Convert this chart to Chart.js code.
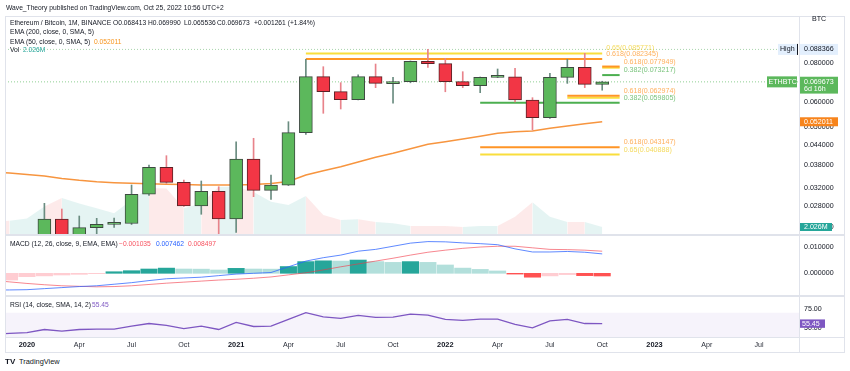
<!DOCTYPE html>
<html>
<head>
<meta charset="utf-8">
<title>ETHBTC 1M</title>
<script src="https://cdn.jsdelivr.net/npm/chart.js@4.4.1/dist/chart.umd.min.js"></script>
<style>
  html, body { margin: 0; background: #fff; }
  #wrap { position: relative; width: 850px; height: 371px; overflow: hidden; font-family: "Liberation Sans", Arial, sans-serif; color: #131722; }
  #wrap canvas { position: absolute; left: 0; }
  .t { position: absolute; font-size: 6.7px; line-height: 8px; white-space: nowrap; }
  .ln { position: absolute; background: #e0e3eb; }
</style>
</head>
<body>
<div id="wrap">
  <canvas id="main" width="850" height="219" style="top:16px"></canvas>
  <canvas id="macd" width="850" height="61" style="top:235px"></canvas>
  <canvas id="rsi" width="850" height="56" style="top:296px"></canvas>
  <div class="ln" style="left:5px;top:16px;width:840px;height:1px"></div>
  <div class="ln" style="left:5px;top:16px;width:1px;height:337px"></div>
  <div class="ln" style="left:844px;top:16px;width:1px;height:337px"></div>
  <div class="ln" style="left:799px;top:16px;width:1px;height:337px"></div>
  <div class="ln" style="left:5px;top:234px;width:840px;height:2px"></div>
  <div class="ln" style="left:5px;top:295px;width:840px;height:2px"></div>
  <div class="ln" style="left:5px;top:337px;width:840px;height:1px"></div>
  <div class="ln" style="left:5px;top:352px;width:840px;height:1px"></div>
</div>
<script>
// monthly ETH/BTC candles, Nov 2019 .. Oct 2022
const months = ['2019-11','2019-12',
  '2020-01','2020-02','2020-03','2020-04','2020-05','2020-06','2020-07','2020-08','2020-09','2020-10','2020-11','2020-12',
  '2021-01','2021-02','2021-03','2021-04','2021-05','2021-06','2021-07','2021-08','2021-09','2021-10','2021-11','2021-12',
  '2022-01','2022-02','2022-03','2022-04','2022-05','2022-06','2022-07','2022-08','2022-09','2022-10'];
const open = [0.0207, 0.0200,
  0.0179, 0.0192, 0.02551, 0.0206, 0.02394, 0.02454, 0.02468, 0.03058, 0.03727, 0.03338, 0.02806, 0.03125,
  0.02551, 0.03960, 0.03148, 0.03270, 0.04801, 0.07236, 0.06483, 0.06114, 0.07236, 0.06880, 0.06976, 0.0810,
  0.0796, 0.0698, 0.06774, 0.0720, 0.07235, 0.0610, 0.05359, 0.0720, 0.0775, 0.068413];
const high = [0.0212, 0.0205,
  0.0196, 0.02862, 0.02745, 0.02608, 0.02564, 0.02570, 0.03273, 0.03790, 0.04057, 0.03395, 0.03370, 0.03232,
  0.04494, 0.04608, 0.03522, 0.05204, 0.08220, 0.07786, 0.06925, 0.07342, 0.07940, 0.07204, 0.0812, 0.088366,
  0.0828, 0.07506, 0.0722, 0.07656, 0.0770, 0.06205, 0.07418, 0.0822, 0.08589, 0.069990];
const low = [0.0196, 0.0176,
  0.0174, 0.0188, 0.0185, 0.0198, 0.02286, 0.02400, 0.02450, 0.03030, 0.03310, 0.02800, 0.02641, 0.02286,
  0.02314, 0.03004, 0.02947, 0.03260, 0.04745, 0.05534, 0.05711, 0.06100, 0.06676, 0.05955, 0.0692, 0.0775,
  0.0648, 0.0668, 0.06436, 0.0719, 0.0601, 0.04897, 0.0533, 0.0689, 0.0668, 0.065536];
const close = [0.0200, 0.0179,
  0.0192, 0.02551, 0.0206, 0.02394, 0.02454, 0.02468, 0.03058, 0.03727, 0.03338, 0.02806, 0.03125, 0.02551,
  0.03960, 0.03148, 0.03270, 0.04801, 0.07236, 0.06483, 0.06114, 0.07236, 0.06894, 0.06976, 0.0810, 0.0796,
  0.0698, 0.06774, 0.0720, 0.07235, 0.0610, 0.05359, 0.0720, 0.0775, 0.068412, 0.069673];
const volume = [3.4, 3.6,
  4.2, 7.2, 9.4, 8.0, 6.8, 5.5, 8.9, 11.9, 11.8, 6.8, 8.0, 12.2,
  12.2, 10.9, 8.4, 7.6, 9.9, 5.1, 3.8, 4.0, 3.3, 3.0, 2.3, 2.3,
  2.3, 2.0, 2.3, 2.3, 4.6, 8.3, 4.6, 3.3, 3.3, 2.026];
const ema50 = [0.03610, 0.03573,
  0.03535, 0.03496, 0.03432, 0.03387, 0.03353, 0.03329, 0.03314, 0.03302, 0.03292, 0.03285, 0.03273, 0.03273,
  0.03273, 0.03285, 0.03310, 0.03358, 0.03522, 0.03634, 0.03742, 0.03874, 0.04010, 0.04129, 0.04270, 0.04410,
  0.04494, 0.04585, 0.04676, 0.04780, 0.04836, 0.04861, 0.04958, 0.05043, 0.05128, 0.052011];
const macd = [-0.0064, -0.0064,
  -0.0063, -0.0059, -0.0055, -0.0051, -0.0048, -0.0042, -0.0036, -0.0028, -0.0021, -0.0018, -0.0015, -0.0009,
  -0.0003, 0.0, 0.0003, 0.0025, 0.0047, 0.0060, 0.0070, 0.0085, 0.0092, 0.0104, 0.0116, 0.0122,
  0.0121, 0.0117, 0.0114, 0.0110, 0.0094, 0.0082, 0.0082, 0.0084, 0.0081, 0.007462];
const signal = [-0.0027, -0.0033,
  -0.0039, -0.0044, -0.0048, -0.0050, -0.0052, -0.0051, -0.0048, -0.0043, -0.0038, -0.0034, -0.0030, -0.0026,
  -0.0023, -0.0019, -0.0014, -0.0006, 0.0002, 0.0013, 0.0025, 0.0036, 0.0047, 0.0058, 0.0070, 0.0081,
  0.0089, 0.0096, 0.0101, 0.0104, 0.0104, 0.0098, 0.0092, 0.0091, 0.0089, 0.008497];
const hist = [-0.0037, -0.0026,
  -0.0013, -0.0010, -0.00065, -0.0004, -0.00015, 0.0006, 0.0010, 0.00165, 0.0020, 0.00165, 0.0016, 0.00127,
  0.0019, 0.00165, 0.0016, 0.0026, 0.0045, 0.0048, 0.0047, 0.0051, 0.0045, 0.0042, 0.0045, 0.0042,
  0.0032, 0.0020, 0.0015, 0.0009, -0.0003, -0.0015, -0.0010, -0.0005, -0.0009, -0.001035];
const rsi = [41.0, 42.5,
  43.5, 47.6, 45.3, 47.6, 48.0, 48.0, 52.0, 55.6, 53.0, 48.9, 52.0, 47.6,
  57.0, 51.6, 52.0, 61.0, 70.0, 64.6, 62.4, 66.5, 63.8, 64.2, 68.2, 66.9,
  61.0, 59.7, 61.5, 61.5, 54.3, 49.7, 59.2, 61.0, 55.6, 55.45];
const rsiBand = [30, 70];

// fibonacci levels
const fibRatio = ['0.65', '0.618', '0.618', '0.65', '0.382', '0.618', '0.65', '0.382', '0.618', '0.65'];
const fibValue = [0.085771, 0.082345, 0.077949, 0.0773, 0.073217, 0.062974, 0.0620, 0.059805, 0.043147, 0.040888];
const fibFrom = ['2021-05', '2021-05', '2022-10', '2022-10', '2022-10', '2022-08', '2022-08', '2022-03', '2022-03', '2022-03'];
const fibTo = ['2022-10', '2022-10', '2022-11', '2022-11', '2022-11', '2022-11', '2022-11', '2022-11', '2022-11', '2022-11'];
const fibLabelled = [true, true, true, false, true, true, false, true, true, true];

// axis ticks
const priceTicks = [0.024, 0.028, 0.032, 0.038, 0.044, 0.05, 0.06, 0.08];
const macdTicks = [0.01, 0];
const rsiTicks = [75, 50];
const tickMonths = ['2020-01','2020-04','2020-07','2020-10','2021-01','2021-04','2021-07','2021-10',
  '2022-01','2022-04','2022-07','2022-10','2023-01','2023-04','2023-07'];
const tickLabels = ['2020','Apr','Jul','Oct','2021','Apr','Jul','Oct','2022','Apr','Jul','Oct','2023','Apr','Jul'];

// view
const viewStart = -1.26, viewEnd = 44.29;
const priceMin = 0.02269, priceMax = 0.11288;
const volMax = 55.5;
const macdMin = -0.008731, macdMax = 0.014731;
const rsiMin = 37.57, rsiMax = 92.38;

const FONT = '7.1px "Liberation Sans", Arial, sans-serif';
const GREEN = '#5cb85c', RED = '#f23645';
const fibLine = { '0.65': '#f9de3c', '0.618': '#ff9526', '0.382': '#4caf50' };
const fibText = { '0.65': 'rgba(240,205,40,0.75)', '0.618': 'rgba(255,150,40,0.75)', '0.382': 'rgba(76,175,80,0.75)' };

const mi = s => { const [y, m] = s.split('-').map(Number); return (y - 2020) * 12 + m - 1; };
const xs = months.map(mi);
const last = close.length - 1;
const up = close.map((c, k) => c >= open[k]);
const pts = arr => arr.map((v, k) => ({ x: xs[k], y: v }));
const maxHigh = Math.max(...high);
const flat = (v) => [{ x: viewStart, y: v }, { x: viewEnd, y: v }];

function baseOptions(bottomPad) {
  return {
    responsive: false, animation: false, events: [],
    layout: { padding: { left: 5, right: 51, top: 0, bottom: bottomPad } },
    plugins: { legend: { display: false }, tooltip: { enabled: false } },
    scales: { x: { type: 'linear', min: viewStart, max: viewEnd, offset: false, display: false } }
  };
}

function tag(ctx, x, y, w, h, bg, fg, text, tx) {
  ctx.fillStyle = bg;
  ctx.fillRect(x, y, w, h);
  ctx.fillStyle = fg;
  ctx.fillText(text, tx, y + h / 2);
}

// ---- main pane ----
const mainLabels = {
  id: 'mainLabels',
  afterDatasetsDraw(chart) {
    const ctx = chart.ctx, ys = chart.scales.y, xsc = chart.scales.x, yv = chart.scales.yv;
    ctx.save();
    ctx.font = FONT;
    ctx.textBaseline = 'middle';
    ctx.textAlign = 'left';
    fibValue.forEach((v, j) => {
      if (!fibLabelled[j]) return;
      ctx.fillStyle = fibText[fibRatio[j]];
      ctx.fillText(fibRatio[j] + '(' + v.toFixed(6) + ')', xsc.getPixelForValue(mi(fibTo[j])) + 4, ys.getPixelForValue(v) - 5);
    });
    ctx.fillStyle = '#131722';
    priceTicks.forEach(v => ctx.fillText(v.toFixed(6), 804, ys.getPixelForValue(v)));

    let cy = ys.getPixelForValue(maxHigh);
    tag(ctx, 778, cy - 5.5, 19, 11, '#e3effd', '#131722', 'High', 780);
    ctx.fillStyle = '#131722';
    ctx.fillRect(797, cy - 5.5, 1, 11);
    tag(ctx, 799, cy - 5.5, 39, 11, '#e3effd', '#131722', maxHigh.toFixed(6), 804);

    cy = ys.getPixelForValue(close[last]);
    tag(ctx, 767, cy - 5.5, 30, 11, GREEN, '#fff', 'ETHBTC', 768.5);
    tag(ctx, 799, cy - 5, 39, 16.5, GREEN, '#fff', close[last].toFixed(6), 804);
    ctx.fillText('6d 16h', 804, cy - 5 + 16.5 / 2 + 0.5);
    ctx.fillStyle = GREEN;
    ctx.fillRect(799, cy - 5, 39, 16.5);
    ctx.fillStyle = '#fff';
    ctx.fillText(close[last].toFixed(6), 804, cy);
    ctx.fillText('6d 16h', 804, cy + 7.5);

    cy = ys.getPixelForValue(ema50[last]);
    tag(ctx, 799, cy - 4.5, 39, 9, '#f7841c', '#fff', ema50[last].toFixed(6), 804);

    cy = yv.getPixelForValue(volume[last]);
    tag(ctx, 799, cy - 4, 33, 8, '#26a69a', '#fff', volume[last].toFixed(3) + 'M', 804);
    ctx.restore();
  }
};

const tealFill = 'rgba(38,166,154,0.12)', pinkFill = 'rgba(239,83,80,0.12)';
const mainData = [
  { type: 'bar', data: xs.map((x, k) => ({ x, y: [open[k], close[k]] })),
    backgroundColor: up.map(u => u ? GREEN : RED), borderColor: up.map(u => u ? '#3d4a40' : '#5a2226'),
    borderWidth: 1, borderSkipped: false, barThickness: 13, minBarLength: 2, grouped: false, order: 0, yAxisID: 'y' },
  { type: 'bar', data: xs.map((x, k) => ({ x, y: [low[k], high[k]] })),
    backgroundColor: up.map(u => u ? '#6a8c80' : '#e8838b'), barThickness: 1, grouped: false, order: 1, yAxisID: 'y' },
  { type: 'line', data: pts(ema50), borderColor: '#f7953f', borderWidth: 1.5, pointRadius: 0, tension: 0, order: 2, yAxisID: 'y' },
  ...fibValue.map((v, j) => ({ type: 'line', data: [{ x: mi(fibFrom[j]), y: v }, { x: mi(fibTo[j]), y: v }],
    borderColor: fibLine[fibRatio[j]], borderWidth: 2, pointRadius: 0, order: 3, yAxisID: 'y' })),
  { type: 'line', data: flat(close[last]), borderColor: '#8fcf92', borderWidth: 1, borderDash: [1, 2], pointRadius: 0, order: 4, yAxisID: 'y' },
  { type: 'line', data: flat(maxHigh), borderColor: '#a8d5ab', borderWidth: 1, borderDash: [1, 2], pointRadius: 0, order: 4, yAxisID: 'y' },
  { type: 'line', data: pts(volume), yAxisID: 'yv', fill: 'origin', borderColor: 'transparent', borderWidth: 0,
    pointRadius: 0, tension: 0, backgroundColor: tealFill, order: 5,
    segment: { backgroundColor: c => up[c.p1DataIndex] ? tealFill : pinkFill } }
];
const mainOpts = baseOptions(0);
mainOpts.scales.y = { type: 'logarithmic', min: priceMin, max: priceMax, display: false };
mainOpts.scales.yv = { type: 'linear', min: 0, max: volMax, display: false };
new Chart(document.getElementById('main'), { type: 'bar', data: { datasets: mainData }, options: mainOpts, plugins: [mainLabels] });

// ---- MACD pane ----
const histColor = hist.map((h, k) => {
  const prev = k > 0 ? hist[k - 1] : h;
  if (h >= 0) return prev < h ? '#26a69a' : '#b2dfdb';
  return prev < h ? '#ffcdd2' : '#ff5252';
});
const macdLabels = {
  id: 'macdLabels',
  afterDatasetsDraw(chart) {
    const ctx = chart.ctx, ys = chart.scales.y;
    ctx.save();
    ctx.font = FONT; ctx.textBaseline = 'middle'; ctx.fillStyle = '#131722';
    macdTicks.forEach(v => ctx.fillText(v.toFixed(6), 804, ys.getPixelForValue(v)));
    ctx.restore();
  }
};
const macdOpts = baseOptions(0);
macdOpts.scales.y = { type: 'linear', min: macdMin, max: macdMax, display: false };
new Chart(document.getElementById('macd'), {
  type: 'bar',
  data: { datasets: [
    { type: 'line', data: pts(macd), borderColor: 'rgba(41,98,255,0.75)', borderWidth: 1, pointRadius: 0, tension: 0, order: 0 },
    { type: 'line', data: pts(signal), borderColor: 'rgba(242,54,69,0.6)', borderWidth: 1, pointRadius: 0, tension: 0, order: 1 },
    { type: 'bar', data: pts(hist), backgroundColor: histColor, barThickness: 16.4, grouped: false, order: 2 }
  ] },
  options: macdOpts, plugins: [macdLabels]
});

// ---- RSI pane + time axis ----
const rsiLabels = {
  id: 'rsiLabels',
  afterDatasetsDraw(chart) {
    const ctx = chart.ctx, ys = chart.scales.y, xsc = chart.scales.x, area = chart.chartArea;
    ctx.save();
    ctx.font = FONT; ctx.textBaseline = 'middle'; ctx.fillStyle = '#131722';
    rsiTicks.forEach(v => ctx.fillText(v.toFixed(2), 804, ys.getPixelForValue(v)));
    const cy = ys.getPixelForValue(rsi[last]);
    tag(ctx, 799, cy - 4.2, 26, 8.4, '#7e57c2', '#fff', rsi[last].toFixed(2), 802);
    ctx.textAlign = 'center';
    tickMonths.forEach((m, j) => {
      const isYear = /^\d{4}$/.test(tickLabels[j]);
      ctx.font = (isYear ? 'bold 7.4px' : '7.1px') + ' "Liberation Sans", Arial, sans-serif';
      ctx.fillStyle = isYear ? '#131722' : '#2a2e39';
      ctx.fillText(tickLabels[j], xsc.getPixelForValue(mi(m)), area.bottom + 8.3);
    });
    ctx.restore();
  }
};
const rsiOpts = baseOptions(15);
rsiOpts.scales.y = { type: 'linear', min: rsiMin, max: rsiMax, display: false };
new Chart(document.getElementById('rsi'), {
  type: 'line',
  data: { datasets: [
    { data: pts(rsi), borderColor: '#7e57c2', borderWidth: 1.3, pointRadius: 0, tension: 0, order: 0 },
    { data: flat(rsiBand[1]), borderColor: 'transparent', borderWidth: 0, pointRadius: 0, order: 1 },
    { data: flat(rsiBand[0]), borderColor: 'transparent', borderWidth: 0, pointRadius: 0, order: 2,
      fill: '-1', backgroundColor: 'rgba(126,87,194,0.07)' }
  ] },
  options: rsiOpts, plugins: [rsiLabels]
});

// ---- texts ----
const wrap = document.getElementById('wrap');
function put(x, yc, text, color, weight, size) {
  const d = document.createElement('div');
  d.className = 't';
  d.style.left = x + 'px';
  d.style.top = (yc - 4) + 'px';
  if (color) d.style.color = color;
  if (weight) d.style.fontWeight = weight;
  if (size) d.style.fontSize = size + 'px';
  d.textContent = text;
  wrap.appendChild(d);
}
const fmt6 = v => (v < 0 ? '\u2212' : '') + Math.abs(v).toFixed(6);
const chg = close[last] - close[last - 1];
const pct = chg / close[last - 1] * 100;
put(6, 8.3, 'Wave_Theory published on TradingView.com, Oct 25, 2022 10:56 UTC+2');
put(10, 23.3, 'Ethereum / Bitcoin, 1M, BINANCE');
put(113, 23.3, 'O' + open[last].toFixed(6));
put(148, 23.3, 'H' + high[last].toFixed(6));
put(184, 23.3, 'L' + low[last].toFixed(6));
put(217, 23.3, 'C' + close[last].toFixed(6));
put(254, 23.3, (chg >= 0 ? '+' : '\u2212') + Math.abs(chg).toFixed(6) + ' (' + (pct >= 0 ? '+' : '\u2212') + Math.abs(pct).toFixed(2) + '%)');
put(10, 32.3, 'EMA (200, close, 0, SMA, 5)');
put(10, 41.7, 'EMA (50, close, 0, SMA, 5)');
put(94, 41.7, ema50[last].toFixed(6), '#f7931a');
put(10, 50, 'Vol');
put(23, 50, volume[last].toFixed(3) + 'M', '#26a69a');
put(10, 244, 'MACD (12, 26, close, 9, EMA, EMA)');
put(119, 244, fmt6(hist[last]), '#f7525f');
put(156, 244, fmt6(macd[last]), '#2962ff');
put(188, 244, fmt6(signal[last]), '#f7525f');
put(10, 304.7, 'RSI (14, close, SMA, 14, 2)');
put(92, 304.7, rsi[last].toFixed(2), '#7e57c2');
put(812, 18.5, 'BTC', '#131722', null, 7.1);
put(5, 362, 'TV', '#131722', '900', 8);
put(19, 362, 'TradingView', '#131722', null, 7.4);
</script>
</body>
</html>
